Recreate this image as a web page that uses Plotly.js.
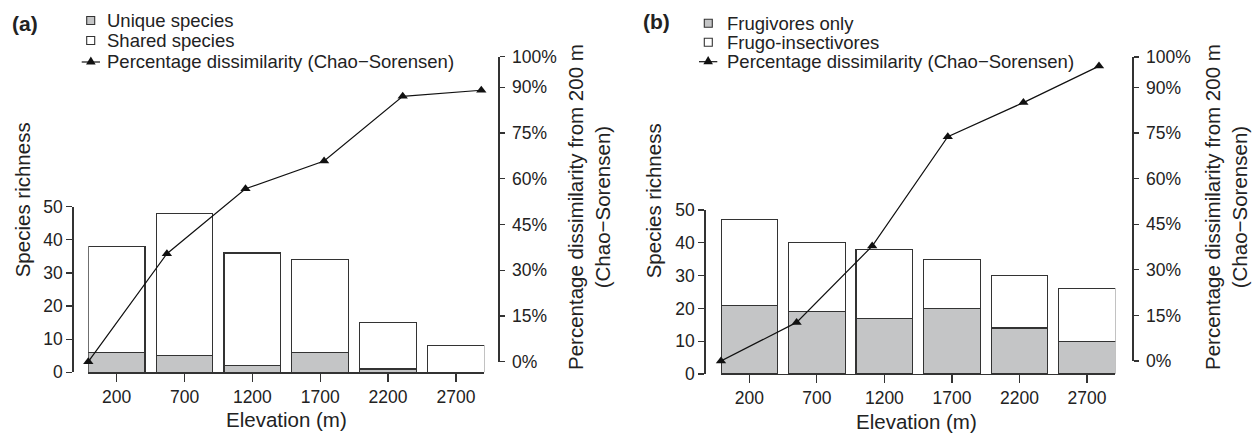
<!DOCTYPE html>
<html>
<head>
<meta charset="utf-8">
<script src="https://cdn.plot.ly/plotly-3.0.1.min.js"></script>
<style>html,body{margin:0;padding:0;background:#fff;}#chart{width:1255px;height:433px;}</style>
</head>
<body>
<div id="chart"></div>
<script>
// ---- data ----
const elevation = ['200', '700', '1200', '1700', '2200', '2700'];
const elevationNum = [200, 700, 1200, 1700, 2200, 2700];
const uniqueSpecies = [6, 5, 2, 6, 1, 0];
const sharedSpecies = [32, 43, 34, 28, 14, 8];
const dissimilarityA = [0, 35.4, 56.7, 65.8, 87, 89];
const frugivoresOnly = [21, 19, 17, 20, 14, 10];
const frugoInsectivores = [26, 21, 21, 15, 16, 16];
const dissimilarityB = [0, 12.7, 37.8, 73.8, 85, 97];
const pctTicks = [0, 15, 30, 45, 60, 75, 90, 100];
const pctLabels = ['0%', '15%', '30%', '45%', '60%', '75%', '90%', '100%'];
const richTicks = [0, 10, 20, 30, 40, 50];

// ---- helpers ----
const W = 1255, H = 433;
const fx = p => p / W;
const fy = p => 1 - p / H;
const FONT = 'Liberation Sans, Arial, Helvetica, sans-serif';
const TXT = '#222';
const AX = '#333';
const GRAY = '#c4c5c6';

function barTrace(y, color, xa, ya, w) {
  return {type: 'bar', x: elevation, y: y, xaxis: xa, yaxis: ya, width: w,
    marker: {color: color, line: {color: AX, width: 1.2}}, showlegend: false, hoverinfo: 'skip'};
}
function lineTrace(y, xa, ya) {
  return {type: 'scatter', mode: 'lines+markers', x: elevationNum, y: y, xaxis: xa, yaxis: ya,
    line: {color: '#111', width: 1.2}, marker: {symbol: 'triangle-up', size: 9, color: '#111'},
    cliponaxis: false, showlegend: false, hoverinfo: 'skip'};
}

const wA = 0.836, wB = 0.839;
const traces = [
  barTrace(uniqueSpecies, GRAY, 'x', 'y', wA),
  barTrace(sharedSpecies, '#fff', 'x', 'y', wA),
  lineTrace(dissimilarityA, 'x2', 'y2'),
  barTrace(frugivoresOnly, GRAY, 'x3', 'y3', wB),
  barTrace(frugoInsectivores, '#fff', 'x3', 'y3', wB),
  lineTrace(dissimilarityB, 'x4', 'y4')
];

const tickFont = {family: FONT, size: 17.5, color: TXT};
function catX(d0, d1, w, anchor) {
  return {domain: [fx(d0), fx(d1)], type: 'category', range: [-w / 2, 5 + w / 2], anchor: anchor,
    showline: true, linecolor: AX, linewidth: 1.2, ticks: 'outside', ticklen: 8, tickcolor: AX, tickwidth: 1.2,
    tickfont: tickFont, showgrid: false, zeroline: false, fixedrange: true};
}
function hidX(d0, d1, r, anchor) {
  return {domain: [fx(d0), fx(d1)], range: r, anchor: anchor, visible: false, fixedrange: true};
}
function leftY(top, bottom, pos) {
  return {domain: [fy(bottom), fy(top)], range: [0, 50], anchor: 'free', position: fx(pos), side: 'left',
    tickmode: 'array', tickvals: richTicks, showline: true, linecolor: AX, linewidth: 1.2, ticks: 'outside', ticklen: 6,
    tickcolor: AX, tickwidth: 1.2, tickfont: tickFont, showgrid: false, zeroline: false, fixedrange: true};
}
function rightY(top, bottom, pos) {
  return {domain: [fy(bottom), fy(top)], range: [0, 100], anchor: 'free', position: fx(pos), side: 'right',
    tickmode: 'array', tickvals: pctTicks, ticktext: pctLabels, showline: true, linecolor: AX, linewidth: 1.2,
    ticks: 'outside', ticklen: 5, ticklabelstandoff: 4,
    tickcolor: AX, tickwidth: 1.2, tickfont: tickFont, showgrid: false, zeroline: false, fixedrange: true};
}

const aX0 = 88.3, aX1 = 484.3;
const bX0 = 721, bX1 = 1115.3;

const annotations = [];
const shapes = [];
const LEG = 18.5, TTL = 20.5;
function txt(s, x, y, opt) {
  annotations.push(Object.assign({text: s, x: fx(x), y: fy(y), xref: 'paper', yref: 'paper', showarrow: false,
    xanchor: 'center', yanchor: 'middle', borderpad: 0, font: {family: FONT, size: LEG, color: TXT}}, opt || {}));
}
function legendBox(cx, cy, fill) {
  shapes.push({type: 'rect', xref: 'paper', yref: 'paper', x0: fx(cx - 4), x1: fx(cx + 4), y0: fy(cy + 4), y1: fy(cy - 4),
    fillcolor: fill, line: {color: AX, width: 1.1}});
}
function legendLine(x0, x1, cy) {
  const cx = (x0 + x1) / 2;
  shapes.push({type: 'line', xref: 'paper', yref: 'paper', x0: fx(x0), x1: fx(x1), y0: fy(cy), y1: fy(cy),
    line: {color: '#111', width: 1.2}});
  shapes.push({type: 'path', xref: 'paper', yref: 'paper',
    path: 'M' + fx(cx - 4.8) + ',' + fy(cy + 2.6) + ' L' + fx(cx + 4.8) + ',' + fy(cy + 2.6) + ' L' + fx(cx) + ',' + fy(cy - 5.6) + ' Z',
    fillcolor: '#111', line: {color: '#111', width: 0}});
}
const ttlFont = {family: FONT, size: TTL, color: TXT};

// panel a texts
txt('<b>(a)</b>', 24.8, 23, {font: {family: FONT, size: 21, color: TXT}});
legendBox(90.7, 20.5, GRAY); legendBox(90.7, 40.5, '#fff'); legendLine(81.7, 100, 62);
txt('Unique species', 105.8, 20, {xanchor: 'left'});
txt('Shared species', 105.8, 40.5, {xanchor: 'left'});
txt('Percentage dissimilarity (Chao\u2212Sorensen)', 105.8, 62, {xanchor: 'left'});
txt('Species richness', 23.3, 200, {textangle: -90, font: ttlFont});
txt('Elevation (m)', 286, 419, {font: ttlFont});
txt('Percentage dissimilarity from 200 m<br>(Chao\u2212Sorensen)', 589, 207, {textangle: -90, font: ttlFont});

// panel b texts
txt('<b>(b)</b>', 656.7, 22, {font: {family: FONT, size: 21, color: TXT}});
legendBox(708.3, 23.3, GRAY); legendBox(708.3, 42.3, '#fff'); legendLine(699, 717.3, 61.7);
txt('Frugivores only', 725.8, 23, {xanchor: 'left'});
txt('Frugo-insectivores', 725.8, 42.3, {xanchor: 'left'});
txt('Percentage dissimilarity (Chao\u2212Sorensen)', 725.8, 61.7, {xanchor: 'left'});
txt('Species richness', 653.3, 201, {textangle: -90, font: ttlFont});
txt('Elevation (m)', 917, 421.7, {font: ttlFont});
txt('Percentage dissimilarity from 200 m<br>(Chao\u2212Sorensen)', 1226, 207, {textangle: -90, font: ttlFont});

const layout = {
  width: W, height: H, autosize: false,
  margin: {l: 0, r: 0, t: 0, b: 0, pad: 0},
  paper_bgcolor: '#fff', plot_bgcolor: 'rgba(0,0,0,0)',
  barmode: 'stack', bargap: 0,
  font: {family: FONT, color: TXT},
  showlegend: false,
  xaxis: catX(aX0, aX1, wA, 'y'),
  yaxis: leftY(206.7, 372.3, 72.3),
  xaxis2: hidX(aX0, aX1, [200, 200 + (aX1 - aX0) / 78.6 * 500], 'y2'),
  yaxis2: rightY(56.7, 361.7, 498.3),
  xaxis3: catX(bX0, bX1, wB, 'y3'),
  yaxis3: leftY(210, 374, 704.3),
  xaxis4: hidX(bX0, bX1, [200, 200 + (bX1 - bX0) / 75.6 * 500], 'y4'),
  yaxis4: rightY(57, 361, 1132.3),
  annotations: annotations,
  shapes: shapes
};

Plotly.newPlot('chart', traces, layout, {staticPlot: true, displayModeBar: false});
</script>
</body>
</html>
